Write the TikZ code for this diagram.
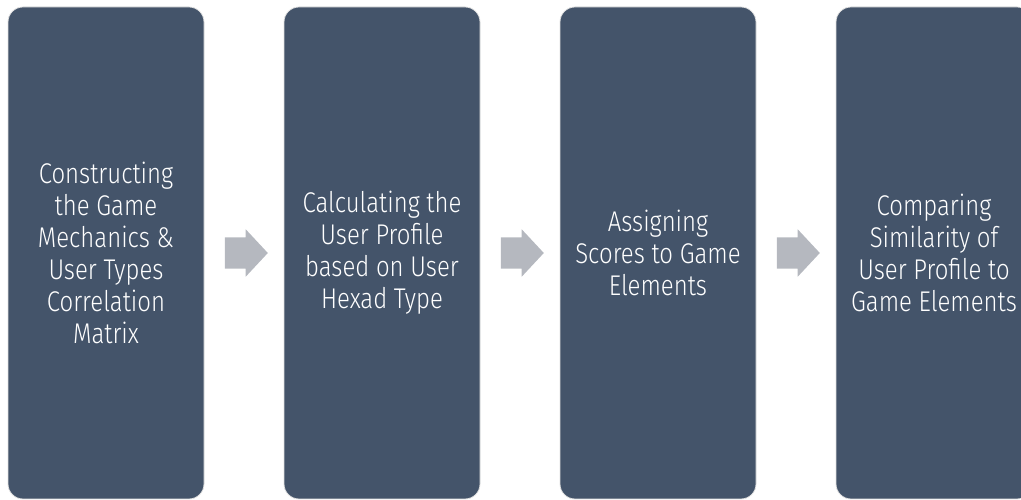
\documentclass[tikz,border=0pt]{standalone}
\usepackage{fontspec}
\setmainfont{Fira Sans}[UprightFont=* Light, FakeStretch=0.84]
\usepackage{tikz}
\usetikzlibrary{shapes.arrows,calc}

\definecolor{stepblue}{RGB}{68,84,106}
\definecolor{arrowgray}{RGB}{181,184,191}

\begin{document}
\begin{tikzpicture}[x=1pt, y=1pt,
    stepbox/.style={draw=black!12, line width=0.8pt, fill=stepblue, rounded corners=15pt,
        minimum width=196pt, minimum height=492pt, inner sep=0pt,
        text=white, align=center, font=\fontsize{28.5}{32}\selectfont},
    blockarrow/.style={single arrow, fill=arrowgray, draw=none, inner sep=0pt,
        minimum height=43pt, single arrow head extend=8pt,
        single arrow tip angle=94}]
    \useasboundingbox (0,0) rectangle (1021,500);
    \clip (0,0) rectangle (1021,500);

    % Steps
    \node[stepbox] (corr) at (106,247) {Constructing\\the Game\\Mechanics \&\\User Types\\Correlation\\Matrix};
    \node[stepbox] (profile) at (382,247) {Calculating the\\User Profile\\based on User\\Hexad Type};
    \node[stepbox] (scores) at (658,247) {Assigning\\Scores to Game\\Elements};
    \node[stepbox] (compare) at (934,247) {Comparing\\Similarity of\\User Profile to\\Game Elements};

    % Arrows between steps
    \node[blockarrow] (a1) at ($(corr.east)!0.5!(profile.west)+(-5,0)$) {\rule{0pt}{31pt}};
    \node[blockarrow] (a2) at ($(profile.east)!0.5!(scores.west)+(-5,0)$) {\rule{0pt}{31pt}};
    \node[blockarrow] (a3) at ($(scores.east)!0.5!(compare.west)+(-5,0)$) {\rule{0pt}{31pt}};
\end{tikzpicture}
\end{document}
